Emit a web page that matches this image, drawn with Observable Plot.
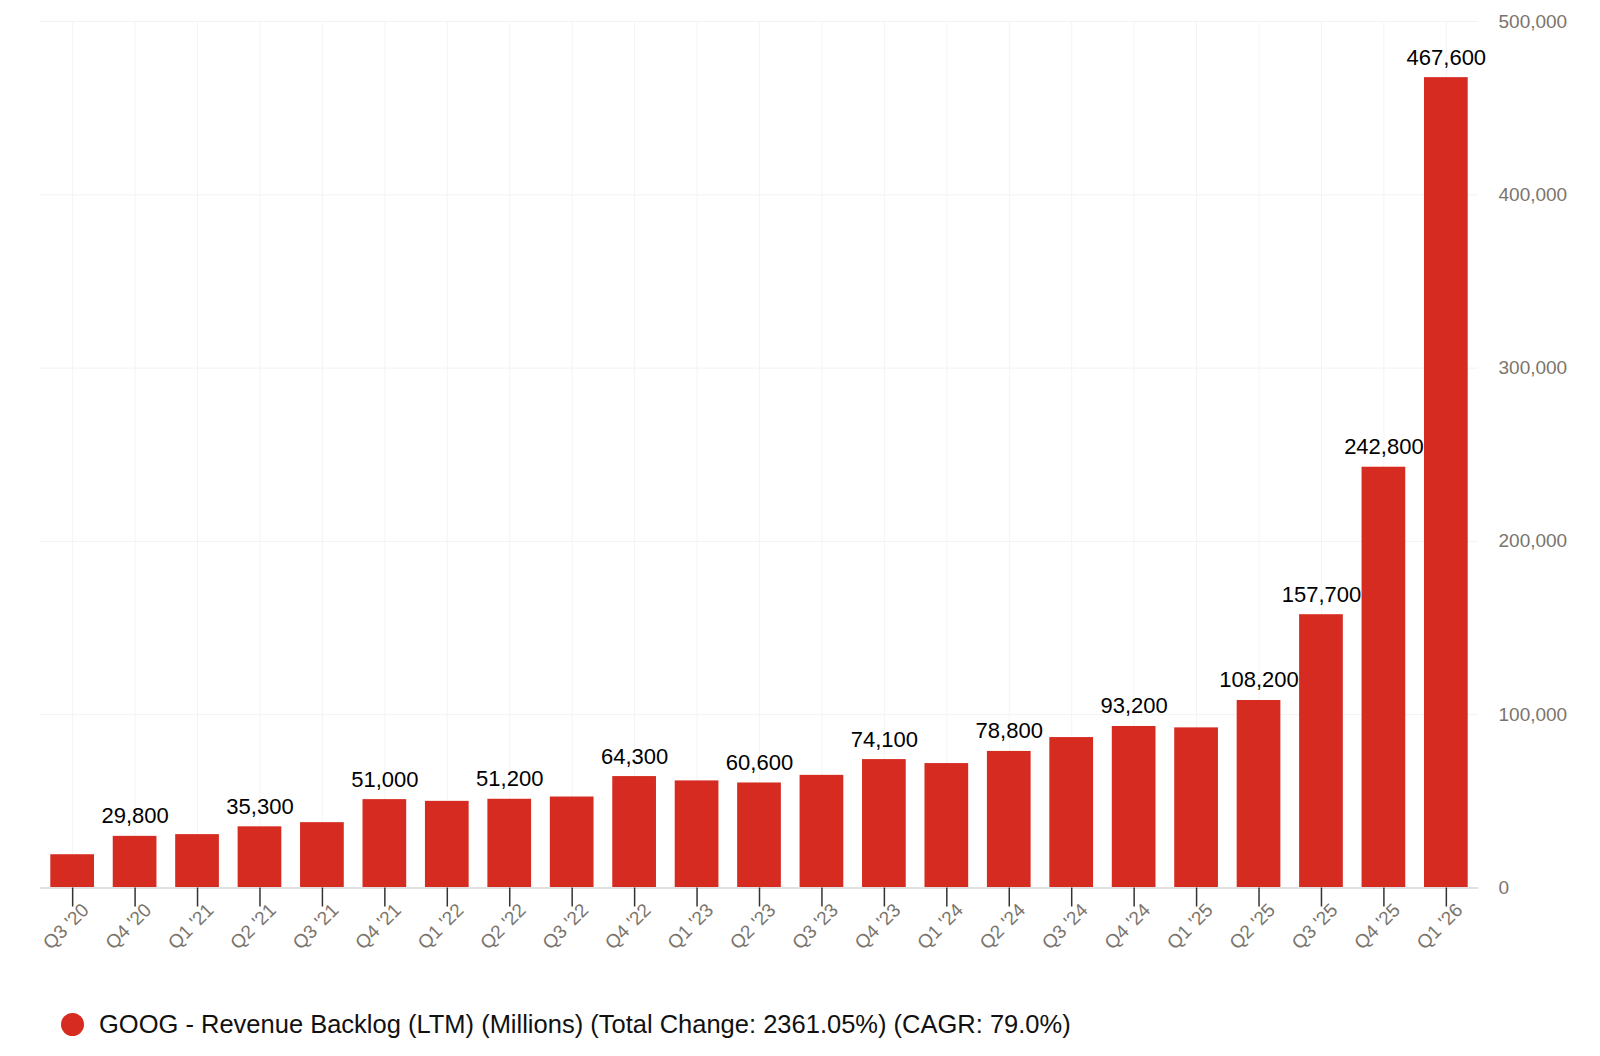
<!DOCTYPE html>
<html>
<head>
<meta charset="utf-8">
<script src="https://cdn.jsdelivr.net/npm/d3@7"></script>
<script src="https://cdn.jsdelivr.net/npm/@observablehq/plot@0.6"></script>
<style>
  html, body { margin: 0; padding: 0; background: #fff; }
  body { width: 1600px; height: 1056px; overflow: hidden; font-family: "Liberation Sans", Arial, sans-serif; }
  #chart svg { display: block; }
  .legend { display: flex; align-items: center; height: 30px; margin-top: 19px; padding-left: 61px; }
  .legend .dot { width: 23px; height: 23px; border-radius: 50%; background: #d62b20; margin-right: 15px; flex: none; }
  .legend .label { font-size: 25.5px; color: #111; line-height: 30px; white-space: nowrap; }
</style>
</head>
<body>
<div id="chart"></div>
<div class="legend"><span class="dot"></span><span class="label">GOOG - Revenue Backlog (LTM) (Millions) (Total Change: 2361.05%) (CAGR: 79.0%)</span></div>
<script>
const quarters = ["Q3 '20","Q4 '20","Q1 '21","Q2 '21","Q3 '21","Q4 '21","Q1 '22","Q2 '22","Q3 '22","Q4 '22","Q1 '23","Q2 '23","Q3 '23","Q4 '23","Q1 '24","Q2 '24","Q3 '24","Q4 '24","Q1 '25","Q2 '25","Q3 '25","Q4 '25","Q1 '26"];
const backlog = [19200, 29800, 30800, 35300, 37700, 51000, 50000, 51200, 52500, 64300, 61800, 60600, 65000, 74100, 71800, 78800, 86800, 93200, 92400, 108200, 157700, 242800, 467600];
const showLabel = [false, true, false, true, false, true, false, true, false, true, false, true, false, true, false, true, false, true, false, true, true, true, true];
const yTicks = [0, 100000, 200000, 300000, 400000, 500000];

const data = quarters.map((q, i) => ({q, v: backlog[i], label: showLabel[i]}));
const fmt = d3.format(",");
const red = "#d62b20";
const gray = "#7a746c";

const chart = Plot.plot({
  width: 1600,
  height: 990,
  marginLeft: 40,
  marginRight: 122,
  marginTop: 21,
  marginBottom: 102.5,
  style: {fontFamily: "'Liberation Sans', Arial, sans-serif", background: "#fff"},
  x: {type: "band", domain: quarters, paddingInner: 0.3, paddingOuter: 0.165, round: false, label: null},
  y: {domain: [0, 500000], label: null},
  marks: [
    Plot.gridY(yTicks, {stroke: "#f2f2f2", strokeOpacity: 1}),
    Plot.gridX(quarters, {stroke: "#f4f4f4", strokeOpacity: 1}),
    Plot.barY(data, {x: "q", y: "v", fill: red}),
    Plot.ruleY([0], {stroke: "#e0e0e0", strokeWidth: 2}),
    Plot.axisX({tickSize: 19, text: null, stroke: "#333", strokeWidth: 1.5}),
    Plot.axisX({tickSize: 0, tickPadding: 0, tickRotate: -45, textAnchor: "end", lineAnchor: "middle", dx: 13, dy: 19, fontSize: 19, fill: gray, label: null}),
    Plot.axisY(yTicks, {anchor: "right", tickSize: 0, tickPadding: 20, textAnchor: "start", tickFormat: fmt, fontSize: 19, fill: gray, label: null}),
    Plot.text(data.filter(d => d.label), {x: "q", y: "v", text: d => fmt(d.v), lineAnchor: "bottom", dy: -13, fontSize: 22, fill: "#000"})
  ]
});
document.getElementById("chart").appendChild(chart);
</script>
</body>
</html>
